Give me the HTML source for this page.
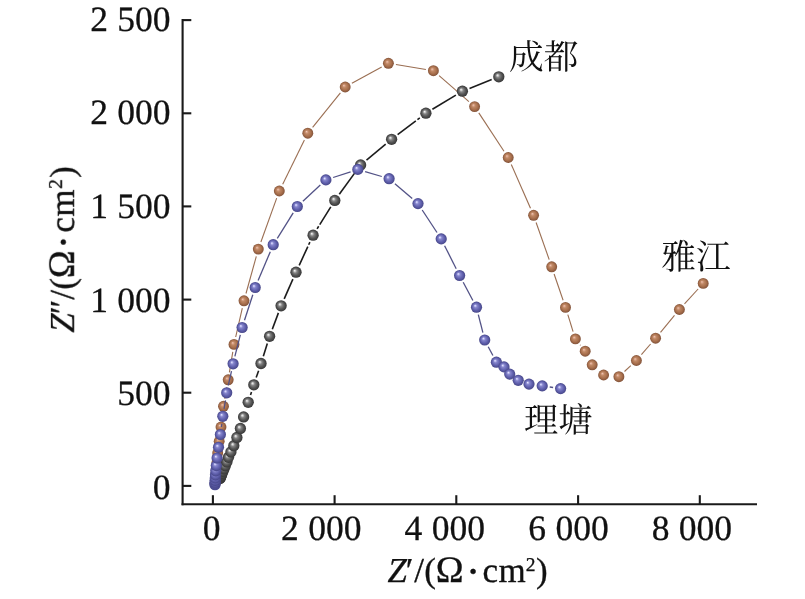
<!DOCTYPE html>
<html lang="zh"><head><meta charset="utf-8"><title>Nyquist plot</title>
<style>
html,body{margin:0;padding:0;background:#fff;}
body{width:805px;height:599px;overflow:hidden;font-family:"Liberation Serif",serif;}
svg{display:block;position:absolute;left:0;top:0;}
text{text-rendering:geometricPrecision;}
</style></head><body>
<svg width="805" height="599" viewBox="0 0 805 599"><defs>
<radialGradient id="gb" cx="0.5" cy="0.5" r="0.5" fx="0.37" fy="0.35">
<stop offset="0" stop-color="#ececff"/><stop offset="0.11" stop-color="#c6c6f4"/><stop offset="0.3" stop-color="#8686cc"/><stop offset="0.64" stop-color="#6363b0"/><stop offset="1" stop-color="#464688"/></radialGradient>
<radialGradient id="gr" cx="0.5" cy="0.5" r="0.5" fx="0.37" fy="0.35">
<stop offset="0" stop-color="#f4d0c4"/><stop offset="0.13" stop-color="#dea990"/><stop offset="0.33" stop-color="#bf8865"/><stop offset="0.66" stop-color="#aa714e"/><stop offset="1" stop-color="#82533a"/></radialGradient>
<radialGradient id="gk" cx="0.5" cy="0.5" r="0.5" fx="0.37" fy="0.35">
<stop offset="0" stop-color="#f6f6f6"/><stop offset="0.14" stop-color="#cfcfcf"/><stop offset="0.34" stop-color="#858585"/><stop offset="0.66" stop-color="#565656"/><stop offset="1" stop-color="#363636"/></radialGradient>
</defs><g stroke="#1a1a1a" stroke-width="2.1" fill="none" stroke-linecap="butt"><path d="M182.6 19.05V505.25"/><path d="M181.55 504.2H757"/><path d="M212.9 504.2V495.2"/><path d="M334.6 504.2V495.2"/><path d="M456.3 504.2V495.2"/><path d="M578.1 504.2V495.2"/><path d="M699.8 504.2V495.2"/><path d="M182.6 20.1H191.3"/><path d="M182.6 113.3H191.3"/><path d="M182.6 206.4H191.3"/><path d="M182.6 299.6H191.3"/><path d="M182.6 392.7H191.3"/><path d="M182.6 485.9H191.3"/></g><g stroke="#9a6e52" stroke-width="1.1" fill="none"><line x1="221.9" y1="419.5" x2="222.6" y2="413.8"/><line x1="224.8" y1="398.8" x2="226.9" y2="387.3"/><line x1="229.4" y1="372.3" x2="232.8" y2="351.9"/><line x1="235.7" y1="337.0" x2="242.3" y2="308.2"/><line x1="246.0" y1="293.5" x2="256.3" y2="256.4"/><line x1="260.9" y1="242.0" x2="276.7" y2="198.1"/><line x1="282.7" y1="184.2" x2="304.4" y2="140.0"/><line x1="312.6" y1="127.3" x2="340.4" y2="92.9"/><line x1="351.9" y1="83.3" x2="381.7" y2="67.0"/><line x1="395.9" y1="64.5" x2="425.9" y2="69.5"/><line x1="439.1" y1="75.7" x2="468.9" y2="101.6"/><line x1="478.8" y1="112.9" x2="504.0" y2="151.2"/><line x1="511.3" y1="164.5" x2="530.5" y2="208.3"/><line x1="536.1" y1="222.5" x2="549.2" y2="259.6"/><line x1="554.1" y1="274.0" x2="563.1" y2="300.2"/><line x1="567.8" y1="314.7" x2="573.1" y2="331.6"/><line x1="580.1" y1="344.8" x2="580.5" y2="345.3"/><line x1="624.5" y1="371.5" x2="630.8" y2="365.7"/><line x1="641.4" y1="354.7" x2="650.6" y2="344.0"/><line x1="660.5" y1="332.3" x2="674.5" y2="315.4"/><line x1="684.5" y1="303.9" x2="698.1" y2="289.0"/></g><g fill="url(#gr)"><circle cx="215.4" cy="483.0" r="5.45"/><circle cx="215.6" cy="479.8" r="5.45"/><circle cx="215.9" cy="475.3" r="5.45"/><circle cx="216.4" cy="469.6" r="5.45"/><circle cx="217.0" cy="462.3" r="5.45"/><circle cx="217.7" cy="453.0" r="5.45"/><circle cx="219.2" cy="441.3" r="5.45"/><circle cx="221.0" cy="427.0" r="5.45"/><circle cx="223.5" cy="406.3" r="5.45"/><circle cx="228.2" cy="379.8" r="5.45"/><circle cx="234.0" cy="344.4" r="5.45"/><circle cx="244.0" cy="300.8" r="5.45"/><circle cx="258.3" cy="249.1" r="5.45"/><circle cx="279.3" cy="191.0" r="5.45"/><circle cx="307.8" cy="133.2" r="5.45"/><circle cx="345.2" cy="87.0" r="5.45"/><circle cx="388.4" cy="63.3" r="5.45"/><circle cx="433.4" cy="70.7" r="5.45"/><circle cx="474.6" cy="106.6" r="5.45"/><circle cx="508.2" cy="157.5" r="5.45"/><circle cx="533.6" cy="215.3" r="5.45"/><circle cx="551.7" cy="266.8" r="5.45"/><circle cx="565.5" cy="307.4" r="5.45"/><circle cx="575.4" cy="338.9" r="5.45"/><circle cx="585.2" cy="351.2" r="5.45"/><circle cx="592.2" cy="364.8" r="5.45"/><circle cx="603.6" cy="375.0" r="5.45"/><circle cx="618.9" cy="376.7" r="5.45"/><circle cx="636.4" cy="360.5" r="5.45"/><circle cx="655.6" cy="338.2" r="5.45"/><circle cx="679.4" cy="309.5" r="5.45"/><circle cx="703.2" cy="283.4" r="5.45"/></g><g stroke="#1c1c1c" stroke-width="1.6" fill="none"><line x1="250.5" y1="395.1" x2="251.5" y2="392.0"/><line x1="256.2" y1="377.6" x2="258.6" y2="370.7"/><line x1="263.3" y1="356.3" x2="267.3" y2="343.5"/><line x1="272.3" y1="329.2" x2="278.4" y2="312.9"/><line x1="284.2" y1="298.9" x2="292.9" y2="279.1"/><line x1="299.2" y1="265.3" x2="309.9" y2="242.1" stroke-dasharray="20.6 2 3 2"/><line x1="317.1" y1="228.8" x2="330.8" y2="206.8" stroke-dasharray="3 2 25.8 2"/><line x1="339.3" y1="194.3" x2="356.1" y2="171.1"/><line x1="366.5" y1="160.1" x2="385.7" y2="144.2"/><line x1="397.6" y1="134.7" x2="419.9" y2="117.8" stroke-dasharray="22.9 2 3 2"/><line x1="432.4" y1="109.3" x2="455.9" y2="95.1"/><line x1="469.5" y1="88.4" x2="491.7" y2="79.6"/></g><g fill="url(#gk)"><circle cx="220.0" cy="478.6" r="5.65"/><circle cx="220.2" cy="478.0" r="5.65"/><circle cx="220.5" cy="477.2" r="5.65"/><circle cx="221.0" cy="476.2" r="5.65"/><circle cx="221.5" cy="474.9" r="5.65"/><circle cx="222.2" cy="473.3" r="5.65"/><circle cx="223.0" cy="471.3" r="5.65"/><circle cx="224.0" cy="468.8" r="5.65"/><circle cx="225.3" cy="465.7" r="5.65"/><circle cx="226.9" cy="461.9" r="5.65"/><circle cx="228.5" cy="457.3" r="5.65"/><circle cx="230.9" cy="451.9" r="5.65"/><circle cx="233.8" cy="445.7" r="5.65"/><circle cx="236.9" cy="437.5" r="5.65"/><circle cx="240.4" cy="428.5" r="5.65"/><circle cx="243.6" cy="416.9" r="5.65"/><circle cx="248.2" cy="402.3" r="5.65"/><circle cx="253.8" cy="384.8" r="5.65"/><circle cx="261.0" cy="363.5" r="5.65"/><circle cx="269.6" cy="336.3" r="5.65"/><circle cx="281.1" cy="305.8" r="5.65"/><circle cx="296.0" cy="272.2" r="5.65"/><circle cx="313.1" cy="235.2" r="5.65"/><circle cx="334.8" cy="200.4" r="5.65"/><circle cx="360.6" cy="165.0" r="5.65"/><circle cx="391.6" cy="139.3" r="5.65"/><circle cx="425.9" cy="113.2" r="5.65"/><circle cx="462.4" cy="91.2" r="5.65"/><circle cx="498.8" cy="76.8" r="5.65"/></g><g stroke="#525286" stroke-width="1.3" fill="none"><line x1="221.4" y1="427.0" x2="221.8" y2="423.8"/><line x1="224.0" y1="408.8" x2="225.5" y2="400.3"/><line x1="228.3" y1="385.4" x2="231.5" y2="371.2"/><line x1="234.9" y1="356.4" x2="240.3" y2="334.9"/><line x1="244.5" y1="320.3" x2="252.8" y2="294.7"/><line x1="258.1" y1="280.5" x2="270.3" y2="251.7"/><line x1="277.3" y1="238.3" x2="293.2" y2="212.9"/><line x1="302.9" y1="201.3" x2="320.3" y2="185.1"/><line x1="333.1" y1="177.5" x2="350.6" y2="171.8"/><line x1="365.1" y1="171.6" x2="381.8" y2="176.5"/><line x1="394.9" y1="183.7" x2="412.2" y2="198.6"/><line x1="422.2" y1="210.0" x2="437.0" y2="232.5"/><line x1="444.6" y1="245.7" x2="456.2" y2="268.7"/><line x1="463.2" y1="282.2" x2="472.9" y2="300.5"/><line x1="478.3" y1="314.6" x2="482.9" y2="332.6"/><line x1="488.2" y1="346.7" x2="492.9" y2="355.5"/><line x1="549.7" y1="387.0" x2="553.1" y2="387.5"/></g><g fill="url(#gb)"><circle cx="215.0" cy="484.7" r="5.6"/><circle cx="215.0" cy="483.6" r="5.6"/><circle cx="215.1" cy="482.2" r="5.6"/><circle cx="215.2" cy="480.3" r="5.6"/><circle cx="215.3" cy="477.9" r="5.6"/><circle cx="215.5" cy="474.8" r="5.6"/><circle cx="215.8" cy="470.8" r="5.6"/><circle cx="216.3" cy="465.6" r="5.6"/><circle cx="217.1" cy="458.0" r="5.6"/><circle cx="218.5" cy="447.3" r="5.6"/><circle cx="220.4" cy="434.5" r="5.6"/><circle cx="222.8" cy="416.3" r="5.6"/><circle cx="226.7" cy="392.8" r="5.6"/><circle cx="233.1" cy="363.8" r="5.6"/><circle cx="242.1" cy="327.5" r="5.6"/><circle cx="255.2" cy="287.5" r="5.6"/><circle cx="273.2" cy="244.7" r="5.6"/><circle cx="297.3" cy="206.5" r="5.6"/><circle cx="325.9" cy="179.9" r="5.6"/><circle cx="357.8" cy="169.4" r="5.6"/><circle cx="389.1" cy="178.7" r="5.6"/><circle cx="418.0" cy="203.6" r="5.6"/><circle cx="441.2" cy="238.9" r="5.6"/><circle cx="459.6" cy="275.5" r="5.6"/><circle cx="476.5" cy="307.2" r="5.6"/><circle cx="484.7" cy="340.0" r="5.6"/><circle cx="496.4" cy="362.2" r="5.6"/><circle cx="504.0" cy="366.9" r="5.6"/><circle cx="509.7" cy="374.1" r="5.6"/><circle cx="518.2" cy="380.3" r="5.6"/><circle cx="529.0" cy="384.1" r="5.6"/><circle cx="542.2" cy="385.9" r="5.6"/><circle cx="560.6" cy="388.6" r="5.6"/></g><g opacity="0.999" stroke="#111" stroke-width="0.3"><g font-family="'Liberation Serif', serif" font-size="35.5" fill="#111" word-spacing="0.5"><text x="170.5" y="31.1" text-anchor="end">2 500</text><text x="170.5" y="124.1" text-anchor="end">2 000</text><text x="170.5" y="217.7" text-anchor="end">1 500</text><text x="170.5" y="311.5" text-anchor="end">1 000</text><text x="170.5" y="405.0" text-anchor="end">500</text><text x="170.5" y="499.0" text-anchor="end">0</text><text x="211.5" y="540.0" text-anchor="middle">0</text><text x="361.4" y="540.0" text-anchor="end">2 000</text><text x="484.9" y="540.0" text-anchor="end">4 000</text><text x="608.7" y="540.0" text-anchor="end">6 000</text><text x="732.1" y="540.0" text-anchor="end">8 000</text></g><g font-family="'Liberation Serif', serif" font-size="35" fill="#111"><text transform="translate(387.2,582.3)"><tspan x="0.31" y="0.00" font-style="italic">Z</tspan><tspan x="18.57" y="0.00">′</tspan><tspan x="26.94" y="0.00">/</tspan><tspan x="37.07" y="0.00">(</tspan><tspan x="48.57" y="0.00" font-size="37.5">Ω</tspan><tspan x="78.67" y="3.90" font-size="44">·</tspan><tspan x="95.35" y="0.00">c</tspan><tspan x="111.29" y="0.00">m</tspan><tspan x="138.53" y="-11.70" font-size="19.5">2</tspan><tspan x="148.83" y="0.00">)</tspan></text><text transform="translate(73.9,332.9) rotate(-90)"><tspan x="0.31" y="0.00" font-style="italic">Z</tspan><tspan x="18.71" y="0.00">″</tspan><tspan x="33.14" y="0.00">/</tspan><tspan x="43.27" y="0.00">(</tspan><tspan x="54.77" y="0.00" font-size="37.5">Ω</tspan><tspan x="83.57" y="3.90" font-size="44">·</tspan><tspan x="100.25" y="0.00">c</tspan><tspan x="116.19" y="0.00">m</tspan><tspan x="144.08" y="-11.70" font-size="19.5">2</tspan><tspan x="155.03" y="0.00">)</tspan></text></g></g><text x="509.0" y="69.4" font-family="'Liberation Serif', 'Noto Serif CJK SC', serif" font-size="34.7" fill="#111">成都</text><text x="661.3" y="268.5" font-family="'Liberation Serif', 'Noto Serif CJK SC', serif" font-size="34.7" fill="#111">雅江</text><text x="524.0" y="431.9" font-family="'Liberation Serif', 'Noto Serif CJK SC', serif" font-size="34.2" fill="#111">理塘</text></svg>
</body></html>
